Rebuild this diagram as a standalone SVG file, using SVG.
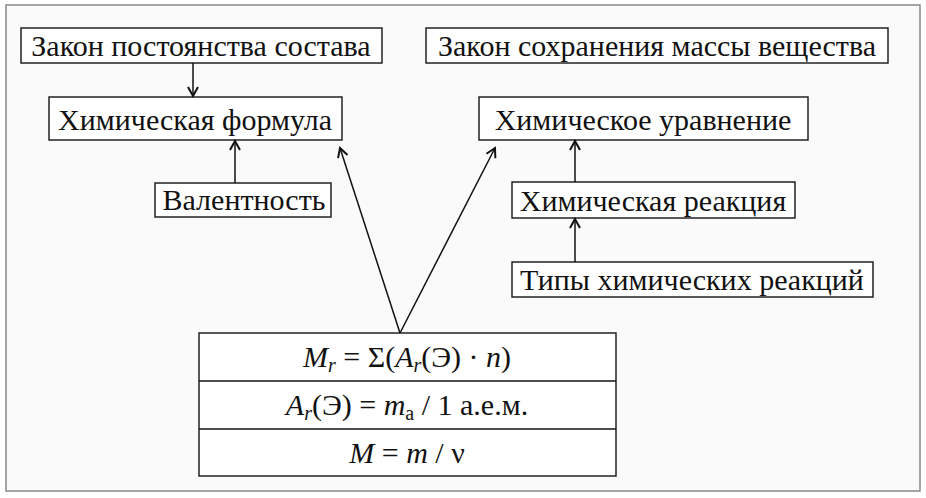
<svg xmlns="http://www.w3.org/2000/svg" width="926" height="498" viewBox="0 0 926 498">
<style>
.b{fill:#fff;stroke:#222;stroke-width:1.5}
.t{font-family:'Liberation Serif','DejaVu Serif','Times New Roman',serif;font-size:30px;fill:#111;text-anchor:middle}
.c{fill:none;stroke:#111;stroke-width:1.5}
</style>
<defs><marker id="a" markerWidth="12" markerHeight="12" refX="10" refY="6" orient="auto" markerUnits="userSpaceOnUse"><path d="M1,1 L10,6 L1,11" fill="none" stroke="#111" stroke-width="2"/></marker></defs>
<rect x="0" y="0" width="926" height="498" fill="#fff"/>
<rect x="6" y="5" width="914" height="486" fill="#fafafa" stroke="#888" stroke-width="1.5"/>
<g id="n1"><rect class="b" x="21" y="28" width="361" height="35"/><text class="t" x="201" y="56">Закон постоянства состава</text></g>
<g id="n2"><rect class="b" x="49" y="97" width="293" height="43"/><text class="t" x="195" y="130">Химическая формула</text></g>
<g id="n3"><rect class="b" x="155" y="183" width="176" height="34"/><text class="t" x="244" y="210">Валентность</text></g>
<g id="n4"><rect class="b" x="426" y="28" width="462" height="35"/><text class="t" x="657" y="56">Закон сохранения массы вещества</text></g>
<g id="n5"><rect class="b" x="479" y="97" width="329" height="43"/><text class="t" x="643" y="130">Химическое уравнение</text></g>
<g id="n6"><rect class="b" x="512" y="182" width="283" height="36"/><text class="t" x="653" y="211">Химическая реакция</text></g>
<g id="n7"><rect class="b" x="512" y="262" width="361" height="35"/><text class="t" x="692" y="290">Типы химических реакций</text></g>
<g id="n8"><rect class="b" x="199" y="333" width="417" height="143"/>
<line class="c" x1="199" y1="381" x2="616" y2="381"/><line class="c" x1="199" y1="429" x2="616" y2="429"/>
<text class="t" x="407" y="367"><tspan font-style="italic">M</tspan><tspan font-style="italic" font-size="20" dy="5">r</tspan><tspan dy="-5"> = Σ(</tspan><tspan font-style="italic">A</tspan><tspan font-style="italic" font-size="20" dy="5">r</tspan><tspan dy="-5">(Э) · </tspan><tspan font-style="italic">n</tspan>)</text>
<text class="t" x="407" y="415"><tspan font-style="italic">A</tspan><tspan font-style="italic" font-size="20" dy="5">r</tspan><tspan dy="-5">(Э) = </tspan><tspan font-style="italic">m</tspan><tspan font-size="20" dy="5">а</tspan><tspan dy="-5">  / 1 а.е.м.</tspan></text>
<text class="t" x="407" y="463"><tspan font-style="italic">M</tspan> = <tspan font-style="italic">m</tspan> / ν</text>
</g>
<g id="connectors">
<line class="c" x1="193" y1="63" x2="193" y2="96" marker-end="url(#a)"/>
<line class="c" x1="235" y1="183" x2="235" y2="141" marker-end="url(#a)"/>
<line class="c" x1="400" y1="333" x2="340" y2="148" marker-end="url(#a)"/>
<line class="c" x1="400" y1="333" x2="495" y2="148" marker-end="url(#a)"/>
<line class="c" x1="575" y1="182" x2="575" y2="141" marker-end="url(#a)"/>
<line class="c" x1="575" y1="262" x2="575" y2="219" marker-end="url(#a)"/>
</g>
</svg>
